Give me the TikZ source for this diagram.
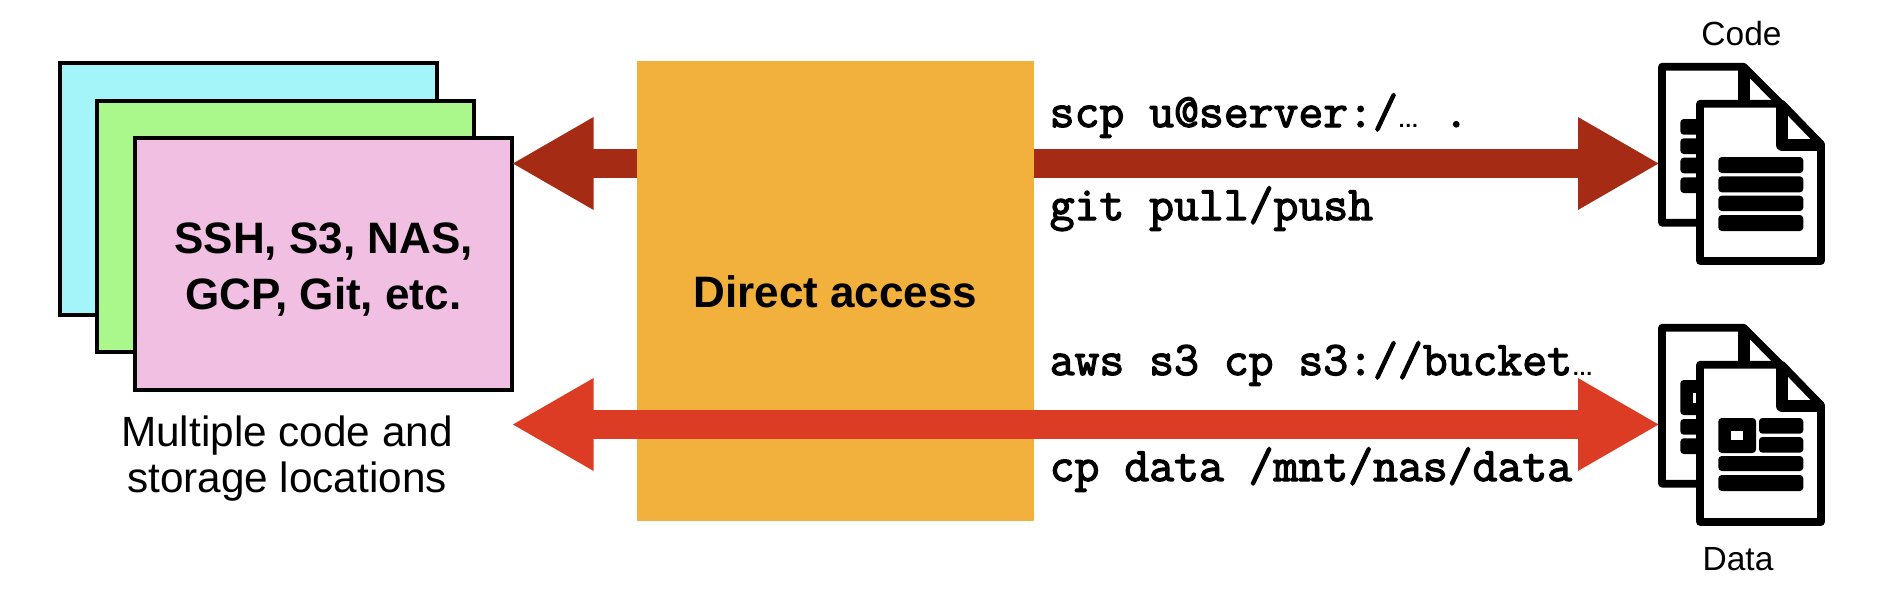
\documentclass[tikz,border=0pt]{standalone}
\usepackage{fontspec}
\setmainfont{Liberation Sans}
\newfontfamily\ellfont{Liberation Sans}
\newfontfamily\cmdfont[FakeBold=2.6]{Latin Modern Mono}
\usetikzlibrary{arrows.meta}
\definecolor{cyanbox}{HTML}{A4F5F9}
\definecolor{greenbox}{HTML}{AAF88C}
\definecolor{pinkbox}{HTML}{F0BFE2}
\definecolor{orangebox}{HTML}{F2B03C}
\definecolor{darkarrow}{HTML}{A62B15}
\definecolor{redarrow}{HTML}{DC3B24}
\newcommand{\elps}{{\ellfont\bfseries\fontsize{21pt}{21pt}\selectfont …}}
\newcommand{\sheets}{%
  \draw[sheet] (1662,66.7) -- (1743.7,66.7) -- (1821,144.3) -- (1821,222.7) -- (1662,222.7) -- cycle;
  \draw[foldline] (1743.7,66.7) -- (1743.7,108);
}
\newcommand{\frontsheet}{%
  \draw[sheet] (1700,103.7) -- (1781.7,103.7) -- (1821,144.3) -- (1821,261) -- (1700,261) -- cycle;
  \draw[foldline] (1781.7,103.7) -- (1781.7,144.5) -- (1821,144.5);
}
\tikzset{
  x=1pt,y=-1pt,
  stackbox/.style={draw=black,line width=4pt,minimum width=377pt,minimum height=251.5pt,inner sep=0pt},
  cmd/.style={anchor=base west,inner sep=0pt,font=\cmdfont\fontsize{48.3pt}{48.3pt}\selectfont},
  boldtext/.style={inner sep=0pt,font=\bfseries\fontsize{44pt}{56pt}\selectfont,align=center},
  plaintext/.style={inner sep=0pt,font=\fontsize{42.3pt}{46pt}\selectfont,align=center},
  iconlabel/.style={anchor=base,inner sep=0pt,font=\fontsize{33.5pt}{34pt}\selectfont},
  sheet/.style={draw=black,fill=white,line width=7.7pt,line join=round},
  foldline/.style={draw=black,line width=12pt,line join=round},
  bar/.style={fill=black,rounded corners=3.5pt},
  bigarrow/.style={line width=29pt,{-{Triangle[length=82pt,width=86.5pt]}}},
  bothways/.style={line width=29pt,{{Triangle[length=82pt,width=86.5pt]}-{Triangle[length=82pt,width=86.5pt]}}}
}
\begin{document}
\begin{tikzpicture}
\useasboundingbox (0,0) rectangle (1888,594);
% stacked location cards
\node[stackbox,fill=cyanbox] (cyancard) at (248.5,189) {};
\node[stackbox,fill=greenbox] (greencard) at (285.25,226.5) {};
\node[stackbox,fill=pinkbox] (pinkcard) at (323.5,264) {};
\node[boldtext] (pinktext) at (323.5,269.5) {SSH, S3, NAS,\\GCP, Git, etc.};
\node[plaintext] (loctext) at (287,458.5) {Multiple code and\\storage locations};
% centre
\node[fill=orangebox,minimum width=397pt,minimum height=460pt,inner sep=0pt,outer sep=0pt] (direct) at (835.5,291) {};
\node[boldtext,anchor=base] (directtext) at (835.5,307) {Direct access};
% ports
\coordinate (codeport) at (1660,163.5);
\coordinate (dataport) at (1660,424.5);
\coordinate (pinkport) at ([xshift=-2.5pt]pinkcard.east);
% connectors
\draw[bigarrow,darkarrow] (direct.east |- codeport) -- (codeport);
\draw[bigarrow,darkarrow] (direct.west |- codeport) -- (pinkport |- codeport);
\draw[bothways,redarrow] (pinkport |- dataport) -- (dataport);
% commands
\node[cmd] (c1) at (1049.5,127) {scp u@server:/\elps{} .};
\node[cmd] (c2) at (1049.5,220) {git pull/push};
\node[cmd] (c3) at (1049.5,375) {aws s3 cp s3://bucket\elps};
\node[cmd] (c4) at (1049.5,481) {cp data /mnt/nas/data};
% code icon
\sheets
\fill[bar] (1680.3,119) rectangle (1705,134.7);
\fill[bar] (1680.3,138.3) rectangle (1705,154);
\fill[bar] (1680.3,157.7) rectangle (1705,173.3);
\fill[bar] (1680.3,177.3) rectangle (1705,193);
\frontsheet
\fill[bar] (1718.3,157) rectangle (1803.3,173);
\fill[bar] (1718.3,176.3) rectangle (1803.3,192.3);
\fill[bar] (1718.3,195.7) rectangle (1803.3,211);
\fill[bar] (1718.3,215) rectangle (1803.3,231);
\node[iconlabel] (codelabel) at (1741.5,46) {Code};
% data icon
\begin{scope}[shift={(0,261)}]
\sheets
\fill[bar] (1680.3,119) rectangle (1705,154);
\fill[white] (1693,132) rectangle (1700,141.5);
\fill[bar] (1680.3,158) rectangle (1705,173.7);
\fill[bar] (1680.3,177.3) rectangle (1705,193);
\frontsheet
\fill[bar] (1718.3,157) rectangle (1756,192);
\fill[white] (1731,169.7) rectangle (1743.3,179.3);
\fill[bar] (1759,157) rectangle (1803.3,172.7);
\fill[bar] (1759,176) rectangle (1803.3,191.7);
\fill[bar] (1718.3,195) rectangle (1803.3,210);
\fill[bar] (1718.3,214) rectangle (1803.3,230);
\end{scope}
\node[iconlabel] (datalabel) at (1738,570) {Data};
\end{tikzpicture}
\end{document}
